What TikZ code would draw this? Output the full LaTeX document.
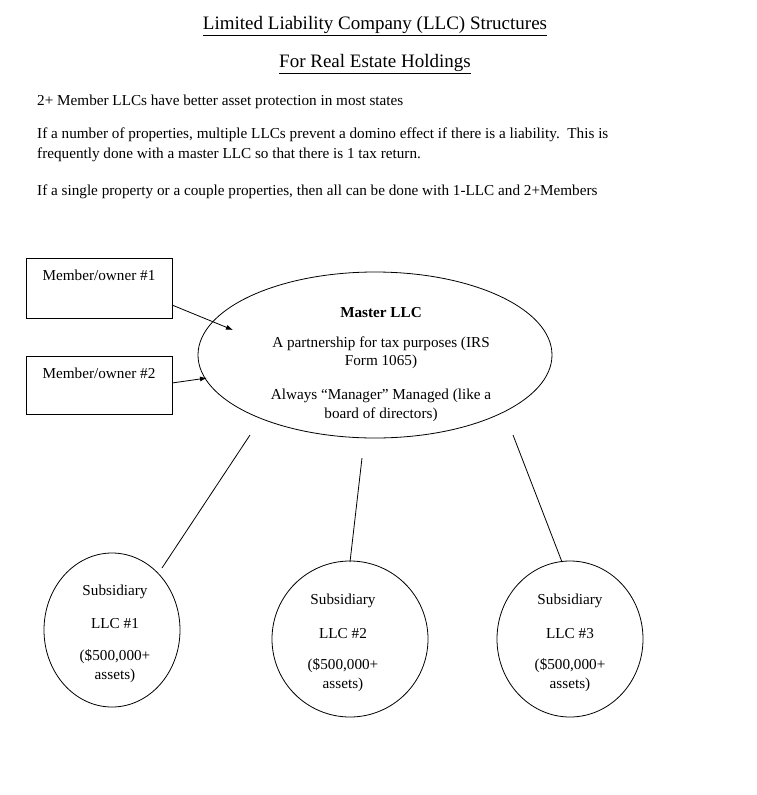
\documentclass[tikz,border=0pt]{standalone}
\usepackage{fontspec}
\setmainfont{Liberation Serif}
\usetikzlibrary{shapes.geometric,arrows.meta}
\begin{document}
\begin{tikzpicture}[x=1pt,y=-1pt,
  txt/.style={inner sep=0pt,font=\fontsize{15.2}{18}\selectfont},
  ttl/.style={inner sep=0pt,font=\fontsize{19}{22}\selectfont},
  box/.style={draw,line width=0.8pt},
  ell/.style={draw,ellipse,line width=0.8pt},
  con/.style={line width=0.8pt},
  arr/.style={line width=0.8pt,-{Latex[length=7pt,width=5pt]}}]
\useasboundingbox (0,0) rectangle (756,795);
\node[ttl] (t1) at (375,26) {\underline{Limited Liability Company (LLC) Structures}};
\node[ttl] (t2) at (375,64) {\underline{For Real Estate Holdings}};
\node[txt,anchor=west] (p1) at (37,102) {2+ Member LLCs have better asset protection in most states};
\node[txt,anchor=west] (p2) at (37,135) {If a number of properties, multiple LLCs prevent a domino effect if there is a liability.\ \ This is};
\node[txt,anchor=west] (p3) at (37,155) {frequently done with a master LLC so that there is 1 tax return.};
\node[txt,anchor=west] (p4) at (37,192) {If a single property or a couple properties, then all can be done with 1-LLC and 2+Members};

\draw[box] (26,258) rectangle (172,318);
\node[txt] (b1) at (99,275) {Member/owner \#1};
\draw[box] (26,356) rectangle (172,414);
\node[txt] (b2) at (99,373) {Member/owner \#2};

\node[ell,minimum width=354,minimum height=166] (m) at (375,355) {};
\node[txt] (m1) at (381,313) {\textbf{Master LLC}};
\node[txt] (m2) at (381,344) {A partnership for tax purposes (IRS};
\node[txt] (m3) at (381,362) {Form 1065)};
\node[txt] (m4) at (381,396) {Always “Manager” Managed (like a};
\node[txt] (m5) at (381,415) {board of directors)};

\coordinate (a1s) at (172,305); \coordinate (a1e) at (233,330);
\coordinate (a2s) at (172,383); \coordinate (a2e) at (207,378);
\draw[arr] (a1s) -- (a1e);
\draw[arr] (a2s) -- (a2e);

\node[ell,minimum width=136,minimum height=154] (s1) at (112,630) {};
\node[ell,minimum width=156,minimum height=156] (s2) at (350,639) {};
\node[ell,minimum width=146,minimum height=156] (s3) at (570,639) {};

\coordinate (l1a) at (250,435); \coordinate (l1b) at (162,568);
\coordinate (l2a) at (362,458); \coordinate (l2b) at (350,562);
\coordinate (l3a) at (513,435); \coordinate (l3b) at (562,562);
\draw[con] (l1a) -- (l1b);
\draw[con] (l2a) -- (l2b);
\draw[con] (l3a) -- (l3b);

\node[txt] (s1a) at (115,592) {Subsidiary};
\node[txt] (s1b) at (115,624) {LLC \#1};
\node[txt] (s1c) at (115,657) {(\$500,000+};
\node[txt] (s1d) at (115,676) {assets)};
\node[txt] (s2a) at (343,601) {Subsidiary};
\node[txt] (s2b) at (343,634) {LLC \#2};
\node[txt] (s2c) at (343,666) {(\$500,000+};
\node[txt] (s2d) at (343,685) {assets)};
\node[txt] (s3a) at (570,601) {Subsidiary};
\node[txt] (s3b) at (570,634) {LLC \#3};
\node[txt] (s3c) at (570,666) {(\$500,000+};
\node[txt] (s3d) at (570,685) {assets)};
\end{tikzpicture}
\end{document}
